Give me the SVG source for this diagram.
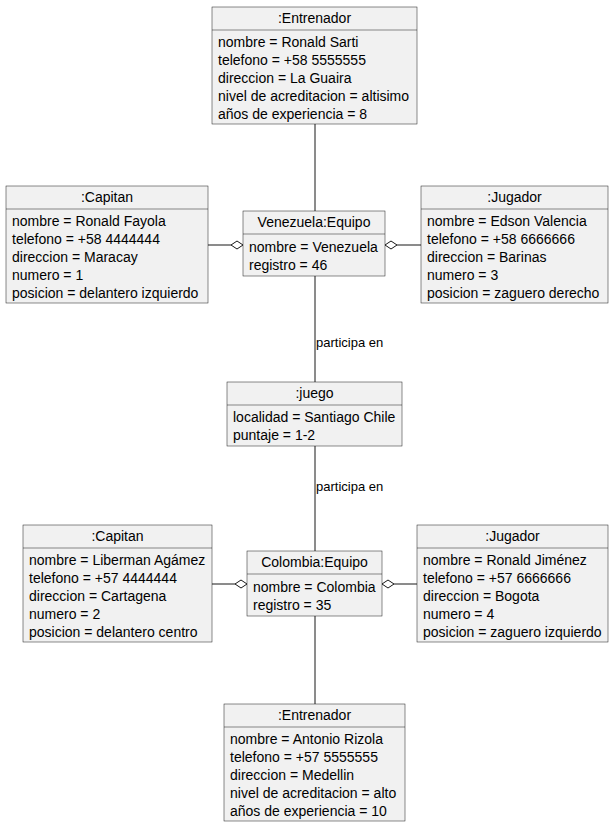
<svg xmlns="http://www.w3.org/2000/svg" width="615" height="827" viewBox="0 0 615 827">
  <style>
    .box { fill: #F1F1F1; stroke: #181818; stroke-width: 0.5; }
    .sep { stroke: #181818; stroke-width: 0.5; }
    text { font-family: "Liberation Sans", Arial, sans-serif; fill: #000000; }
    .title { font-size: 14px; text-anchor: middle; }
    .attr { font-size: 14px; }
    .lbl { font-size: 13px; }
    .link { stroke: #181818; stroke-width: 1; fill: none; }
    .agg { fill: #FFFFFF; stroke: #181818; stroke-width: 1; }
  </style>
  <rect width="615" height="827" fill="#FFFFFF"/>

  <!-- connectors -->
  <g id="connectors">
    <line class="link" x1="315" y1="124" x2="315" y2="211"/>
    <line class="link" x1="315" y1="276" x2="315" y2="382"/>
    <text class="lbl" x="316" y="347">participa en</text>
    <line class="link" x1="315" y1="446" x2="315" y2="551"/>
    <text class="lbl" x="316" y="491">participa en</text>
    <line class="link" x1="315" y1="616" x2="315" y2="704"/>

    <line class="link" x1="208" y1="245" x2="231" y2="245"/>
    <polygon class="agg" points="243,245 237,241 231,245 237,249"/>
    <line class="link" x1="397" y1="245" x2="421" y2="245"/>
    <polygon class="agg" points="385,245 391,241 397,245 391,249"/>

    <line class="link" x1="212" y1="584" x2="235" y2="584"/>
    <polygon class="agg" points="247,584 241,580 235,584 241,588"/>
    <line class="link" x1="394" y1="584" x2="417" y2="584"/>
    <polygon class="agg" points="382,584 388,580 394,584 388,588"/>
  </g>

  <!-- Entrenador (Venezuela) -->
  <g id="entrenador1">
    <rect class="box" x="212" y="7" width="205" height="117"/>
    <text class="title" x="314.5" y="23">:Entrenador</text>
    <line class="sep" x1="212" y1="30" x2="417" y2="30"/>
    <text class="attr" x="218" y="47">nombre = Ronald Sarti</text>
    <text class="attr" x="218" y="65">telefono = +58 5555555</text>
    <text class="attr" x="218" y="83">direccion = La Guaira</text>
    <text class="attr" x="218" y="101">nivel de acreditacion = altisimo</text>
    <text class="attr" x="218" y="119">años de experiencia = 8</text>
  </g>

  <!-- Capitan (Venezuela) -->
  <g id="capitan1">
    <rect class="box" x="6" y="186" width="202" height="117"/>
    <text class="title" x="107" y="202">:Capitan</text>
    <line class="sep" x1="6" y1="209" x2="208" y2="209"/>
    <text class="attr" x="12" y="226">nombre = Ronald Fayola</text>
    <text class="attr" x="12" y="244">telefono = +58 4444444</text>
    <text class="attr" x="12" y="262">direccion = Maracay</text>
    <text class="attr" x="12" y="280">numero = 1</text>
    <text class="attr" x="12" y="298">posicion = delantero izquierdo</text>
  </g>

  <!-- Venezuela:Equipo -->
  <g id="venezuela">
    <rect class="box" x="243" y="211" width="142" height="65"/>
    <text class="title" x="314" y="227">Venezuela:Equipo</text>
    <line class="sep" x1="243" y1="234" x2="385" y2="234"/>
    <text class="attr" x="249" y="252">nombre = Venezuela</text>
    <text class="attr" x="249" y="270">registro = 46</text>
  </g>

  <!-- Jugador (Venezuela) -->
  <g id="jugador1">
    <rect class="box" x="421" y="186" width="187" height="117"/>
    <text class="title" x="514.5" y="202">:Jugador</text>
    <line class="sep" x1="421" y1="209" x2="608" y2="209"/>
    <text class="attr" x="427" y="226">nombre = Edson Valencia</text>
    <text class="attr" x="427" y="244">telefono = +58 6666666</text>
    <text class="attr" x="427" y="262">direccion = Barinas</text>
    <text class="attr" x="427" y="280">numero = 3</text>
    <text class="attr" x="427" y="298">posicion = zaguero derecho</text>
  </g>

  <!-- juego -->
  <g id="juego">
    <rect class="box" x="227" y="382" width="175" height="64"/>
    <text class="title" x="314.5" y="398">:juego</text>
    <line class="sep" x1="227" y1="405" x2="402" y2="405"/>
    <text class="attr" x="233" y="422">localidad = Santiago Chile</text>
    <text class="attr" x="233" y="440">puntaje = 1-2</text>
  </g>

  <!-- Capitan (Colombia) -->
  <g id="capitan2">
    <rect class="box" x="23" y="525" width="189" height="117"/>
    <text class="title" x="117.5" y="541">:Capitan</text>
    <line class="sep" x1="23" y1="548" x2="212" y2="548"/>
    <text class="attr" x="29" y="565">nombre = Liberman Agámez</text>
    <text class="attr" x="29" y="583">telefono = +57 4444444</text>
    <text class="attr" x="29" y="601">direccion = Cartagena</text>
    <text class="attr" x="29" y="619">numero = 2</text>
    <text class="attr" x="29" y="637">posicion = delantero centro</text>
  </g>

  <!-- Colombia:Equipo -->
  <g id="colombia">
    <rect class="box" x="247" y="551" width="135" height="65"/>
    <text class="title" x="314.5" y="567">Colombia:Equipo</text>
    <line class="sep" x1="247" y1="574" x2="382" y2="574"/>
    <text class="attr" x="253" y="592">nombre = Colombia</text>
    <text class="attr" x="253" y="610">registro = 35</text>
  </g>

  <!-- Jugador (Colombia) -->
  <g id="jugador2">
    <rect class="box" x="417" y="525" width="191" height="117"/>
    <text class="title" x="512.5" y="541">:Jugador</text>
    <line class="sep" x1="417" y1="548" x2="608" y2="548"/>
    <text class="attr" x="423" y="565">nombre = Ronald Jiménez</text>
    <text class="attr" x="423" y="583">telefono = +57 6666666</text>
    <text class="attr" x="423" y="601">direccion = Bogota</text>
    <text class="attr" x="423" y="619">numero = 4</text>
    <text class="attr" x="423" y="637">posicion = zaguero izquierdo</text>
  </g>

  <!-- Entrenador (Colombia) -->
  <g id="entrenador2">
    <rect class="box" x="224" y="704" width="181" height="117"/>
    <text class="title" x="314.5" y="720">:Entrenador</text>
    <line class="sep" x1="224" y1="727" x2="405" y2="727"/>
    <text class="attr" x="230" y="744">nombre = Antonio Rizola</text>
    <text class="attr" x="230" y="762">telefono = +57 5555555</text>
    <text class="attr" x="230" y="780">direccion = Medellin</text>
    <text class="attr" x="230" y="798">nivel de acreditacion = alto</text>
    <text class="attr" x="230" y="816">años de experiencia = 10</text>
  </g>
</svg>
